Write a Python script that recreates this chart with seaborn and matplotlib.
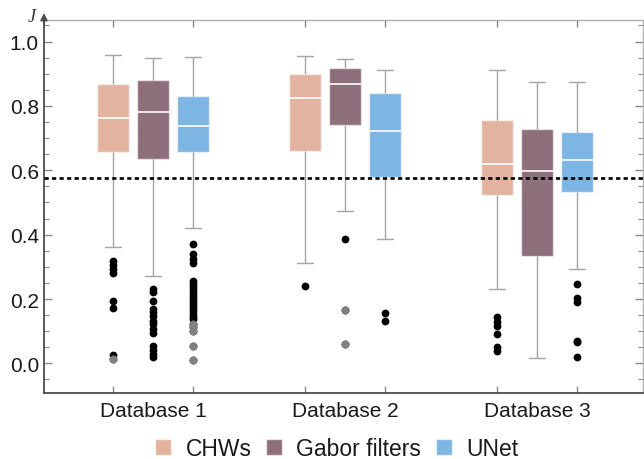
import numpy as np
import pandas as pd
import seaborn as sns
import matplotlib.pyplot as plt
import matplotlib.patches as mpatches
from matplotlib.ticker import MultipleLocator

sns.set_theme(style="white")
plt.rcParams["font.family"] = ["Liberation Sans", "DejaVu Sans"]

databases = ["Database 1", "Database 2", "Database 3"]
methods = ["CHWs", "Gabor filters", "UNet"]
colors = ["#e2b4a0", "#8e6f7c", "#7db5e3"]

# box summaries per database (lower whisker, Q1, median, Q3, upper whisker)
chws_whislo = [0.362, 0.312, 0.232]
chws_q1 = [0.656, 0.659, 0.524]
chws_med = [0.761, 0.826, 0.620]
chws_q3 = [0.867, 0.898, 0.755]
chws_whishi = [0.958, 0.956, 0.912]
chws_out = [[0.318, 0.306, 0.293, 0.281, 0.194, 0.171, 0.026, 0.014],
            [0.239],
            [0.143, 0.130, 0.117, 0.092, 0.050, 0.038]]

gabor_whislo = [0.270, 0.475, 0.018]
gabor_q1 = [0.635, 0.740, 0.335]
gabor_med = [0.782, 0.867, 0.599]
gabor_q3 = [0.881, 0.919, 0.727]
gabor_whishi = [0.950, 0.946, 0.873]
gabor_out = [[0.231, 0.221, 0.195, 0.169, 0.159, 0.147, 0.133, 0.121, 0.107,
              0.095, 0.055, 0.043, 0.030, 0.021],
             [0.386, 0.166, 0.060],
             []]

unet_whislo = [0.422, 0.386, 0.293]
unet_q1 = [0.656, 0.579, 0.534]
unet_med = [0.737, 0.722, 0.631]
unet_q3 = [0.831, 0.841, 0.720]
unet_whishi = [0.951, 0.912, 0.873]
unet_out = [[0.371, 0.340, 0.325, 0.312, 0.257, 0.248, 0.238, 0.229, 0.219,
             0.210, 0.200, 0.191, 0.181, 0.172, 0.162, 0.152, 0.143, 0.138,
             0.123, 0.113, 0.102, 0.053, 0.012],
            [0.157, 0.132],
            [0.247, 0.203, 0.190, 0.071, 0.066, 0.021]]

threshold = 0.576

summaries = {
    "CHWs": (chws_whislo, chws_q1, chws_med, chws_q3, chws_whishi, chws_out),
    "Gabor filters": (gabor_whislo, gabor_q1, gabor_med, gabor_q3, gabor_whishi, gabor_out),
    "UNet": (unet_whislo, unet_q1, unet_med, unet_q3, unet_whishi, unet_out),
}

# long-form table whose quartiles / whiskers reproduce the summaries
rows = []
for m in methods:
    lo, q1, med, q3, hi, outs = summaries[m]
    for i, db in enumerate(databases):
        k = len(outs[i]) + 1
        vals = list(outs[i]) + [lo[i]] + [q1[i]] * k + [med[i]] * k + [q3[i]] * k + [hi[i]]
        rows += [(db, m, v) for v in vals]
df = pd.DataFrame(rows, columns=["db", "method", "J"])

fig = plt.figure(figsize=(6.44, 4.6), dpi=100)
ax = fig.add_axes([0.0683, 0.1435, 0.930, 0.8108])

palette = dict(zip(methods, colors))
common = dict(data=df, x="db", y="J", hue="method", order=databases,
              hue_order=methods, palette=palette, width=0.625, gap=0.2,
              saturation=1, ax=ax, linewidth=1.0, linecolor="#a3a3a3")

sns.boxplot(**common, whis=1.5, legend=False,
            boxprops=dict(edgecolor=(1, 1, 1, 0.6)),
            medianprops=dict(color="white", linewidth=1.2),
            flierprops=dict(marker="o", markersize=5.6, markeredgewidth=0,
                            markerfacecolor="black", markeredgecolor="black"))
nl, npch = len(ax.lines), len(ax.patches)
# far outliers (beyond 3 IQR) in grey
sns.boxplot(**common, whis=3.0, legend=False,
            flierprops=dict(marker="o", markersize=5.8, markeredgewidth=0,
                            markerfacecolor="#808080", markeredgecolor="#808080"))
for ln in ax.lines[nl:]:
    if ln.get_linestyle() not in ("None", "none", ""):
        ln.set_visible(False)
for p in ax.patches[npch:]:
    p.set_visible(False)

ax.axhline(threshold, color="black", lw=1.9, ls=(0, (1.6, 1.25)), zorder=6)

ax.set_xlim(-0.568, 2.552)
ax.set_ylim(-0.092, 1.067)
ax.set_xlabel("")
ax.set_ylabel("")

ax.yaxis.set_major_locator(MultipleLocator(0.2))
ax.yaxis.set_minor_locator(MultipleLocator(0.05))
ax.tick_params(axis="y", which="both", direction="in", left=True, right=True,
               color="#8a8a8a", labelsize=15, pad=3.6, labelcolor="#1a1a1a")
ax.tick_params(axis="y", which="major", length=6, width=1)
ax.tick_params(axis="y", which="minor", length=3.5, width=0.8)

ax.set_xticks(range(len(databases)))
ax.set_xticklabels(databases)
ax.tick_params(axis="x", which="major", length=0, labelsize=15, pad=5.5,
               labelcolor="#1a1a1a")
offs = [(j - 1) * 0.625 / 3 for j in range(len(methods))]
ax.set_xticks([i + o for i in range(len(databases)) for o in offs], minor=True)
ax.tick_params(axis="x", which="minor", direction="in", top=True, bottom=True,
               length=5, width=1, color="#8a8a8a")

for s in ["left", "bottom"]:
    ax.spines[s].set_color("#4d4d4d")
    ax.spines[s].set_linewidth(1.3)
for s in ["top", "right"]:
    ax.spines[s].set_color("#b0b0b0")
    ax.spines[s].set_linewidth(1.0)

ax.annotate("", xy=(0, 1 + 7 / 373), xycoords="axes fraction",
            xytext=(0, 1 - 4 / 373), textcoords="axes fraction",
            arrowprops=dict(arrowstyle="-|>", color="#4d4d4d", lw=1.3,
                            mutation_scale=10, shrinkA=0, shrinkB=0),
            annotation_clip=False)
fig.text(32 / 644, 1 - 17 / 460, "J", style="italic",
         family=["Liberation Serif", "DejaVu Serif"], fontsize=13,
         ha="center", va="center", color="#333333")

handles = [mpatches.Patch(facecolor=c, edgecolor=(1, 1, 1, 0.6), label=m)
           for m, c in zip(methods, colors)]
fig.legend(handles=handles, loc="center", bbox_to_anchor=(0.523, 0.022),
           ncol=3, frameon=False, fontsize=16.5, handlelength=0.7,
           handleheight=0.7, handletextpad=0.61, columnspacing=0.65,
           borderpad=0, labelcolor="#1a1a1a")

fig.savefig("out.png", dpi=100)
